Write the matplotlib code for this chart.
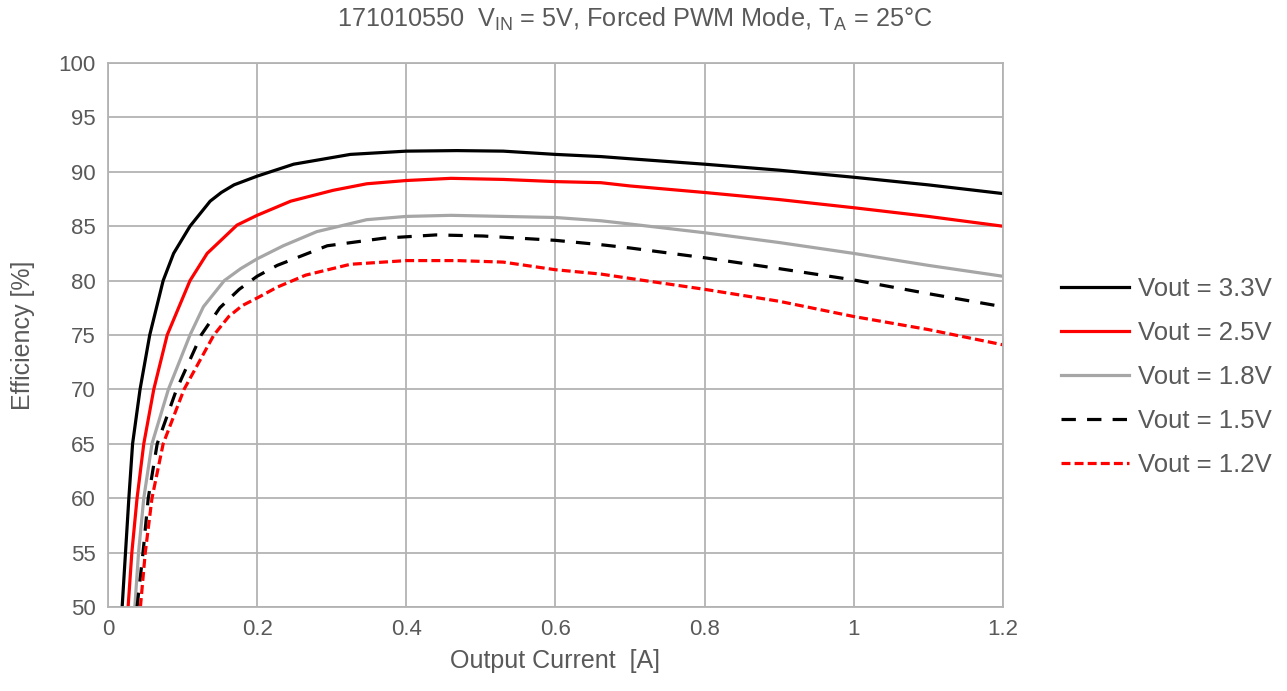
import matplotlib.pyplot as plt

plt.rcParams['font.family'] = ['Liberation Sans', 'DejaVu Sans']
plt.rcParams['mathtext.fontset'] = 'custom'
plt.rcParams['mathtext.rm'] = 'Liberation Sans'
plt.rcParams['mathtext.it'] = 'Liberation Sans'

gray_txt = '#595959'

# Vout = 3.3V
x33 = [0.019, 0.0235, 0.028, 0.033, 0.043, 0.056, 0.074, 0.088, 0.110, 0.137, 0.152, 0.169,
       0.200, 0.249, 0.325, 0.40, 0.468, 0.53, 0.60, 0.661, 0.70, 0.80, 0.90, 1.00, 1.10, 1.20]
y33 = [50, 55, 60, 65, 70, 75, 80, 82.5, 85, 87.3, 88.1, 88.8,
       89.6, 90.7, 91.6, 91.9, 91.95, 91.9, 91.6, 91.4, 91.2, 90.7, 90.15, 89.5, 88.8, 88.0]

# Vout = 2.5V
x25 = [0.027, 0.032, 0.039, 0.048, 0.0614, 0.0794, 0.110, 0.133, 0.173, 0.200,
       0.245, 0.302, 0.347, 0.40, 0.46, 0.53, 0.60, 0.661, 0.70, 0.80, 0.90, 1.00, 1.10, 1.20]
y25 = [50, 55, 60, 65, 70, 75, 80, 82.5, 85.1, 86.0,
       87.3, 88.3, 88.9, 89.2, 89.4, 89.3, 89.1, 89.0, 88.7, 88.1, 87.45, 86.7, 85.9, 85.0]

# Vout = 1.8V
x18 = [0.036, 0.041, 0.048, 0.059, 0.081, 0.110, 0.128, 0.156, 0.178, 0.200,
       0.235, 0.28, 0.347, 0.40, 0.46, 0.53, 0.60, 0.661, 0.70, 0.80, 0.90, 1.00, 1.10, 1.20]
y18 = [50, 55, 60, 65, 70, 75, 77.6, 80, 81.1, 82.0,
       83.2, 84.5, 85.6, 85.9, 86.0, 85.9, 85.8, 85.5, 85.2, 84.4, 83.5, 82.5, 81.4, 80.4]

# Vout = 1.5V
x15 = [0.039, 0.047, 0.054, 0.066, 0.092, 0.125, 0.150, 0.176, 0.200,
       0.227, 0.294, 0.37, 0.44, 0.503, 0.60, 0.661, 0.70, 0.80, 0.90, 1.00, 1.10, 1.20]
y15 = [50, 55, 60, 65, 70, 75, 77.5, 79.2, 80.4,
       81.4, 83.2, 83.9, 84.2, 84.1, 83.7, 83.3, 83.0, 82.1, 81.1, 80.06, 78.8, 77.6]

# Vout = 1.2V
x12 = [0.0435, 0.050, 0.059, 0.074, 0.102, 0.142, 0.162, 0.180, 0.200,
       0.227, 0.265, 0.325, 0.40, 0.468, 0.53, 0.60, 0.661, 0.70, 0.80, 0.90, 1.00, 1.10, 1.20]
y12 = [50, 55, 60, 65, 70, 75, 76.7, 77.7, 78.4,
       79.4, 80.5, 81.5, 81.84, 81.84, 81.7, 81.0, 80.6, 80.2, 79.2, 78.1, 76.7, 75.5, 74.1]

fig = plt.figure(figsize=(12.87, 6.91), dpi=100)
ax = fig.add_axes([0.0839, 0.1216, 0.6953, 0.7872])

lw = 2.3
ax.plot(x33, y33, color='black', lw=lw, label='Vout = 3.3V')
ax.plot(x25, y25, color='#ff0000', lw=lw, label='Vout = 2.5V')
ax.plot(x18, y18, color='#a6a6a6', lw=lw, label='Vout = 1.8V')
ax.plot(x15, y15, color='black', lw=lw, ls=(0, (4.5, 3.5)), label='Vout = 1.5V')
ax.plot(x12, y12, color='#ff0000', lw=lw, ls=(0, (2.8, 1.3)), label='Vout = 1.2V')

ax.set_xlim(0, 1.2)
ax.set_ylim(50, 100)
ax.set_xticks([0, 0.2, 0.4, 0.6, 0.8, 1.0, 1.2])
ax.set_xticklabels(['0', '0.2', '0.4', '0.6', '0.8', '1', '1.2'])
ax.set_yticks(range(50, 101, 5))
ax.grid(True, color='#b3b3b3', lw=1.3)
ax.set_axisbelow(True)
for s in ax.spines.values():
    s.set_color('#b3b3b3')
    s.set_linewidth(1.3)
ax.tick_params(length=0, labelsize=16, labelcolor=gray_txt, pad=9)

ax.set_xlabel('Output Current  [A]', fontsize=18, color=gray_txt, labelpad=6)
ax.set_ylabel('Efficiency [%]', fontsize=18, color=gray_txt, labelpad=17)

fig.text(0.493, 0.972, r'171010550  V$_{\rm IN}$ = 5V, Forced PWM Mode, T$_{\rm A}$ = 25°C',
         ha='center', va='center', fontsize=18.2, color=gray_txt)

fig.legend(loc='center left', bbox_to_anchor=(0.8065, 0.455), frameon=False,
           fontsize=18.5, labelcolor=gray_txt, handlelength=2.65, handletextpad=0.35,
           labelspacing=0.78)

plt.savefig('out.png', dpi=100)
